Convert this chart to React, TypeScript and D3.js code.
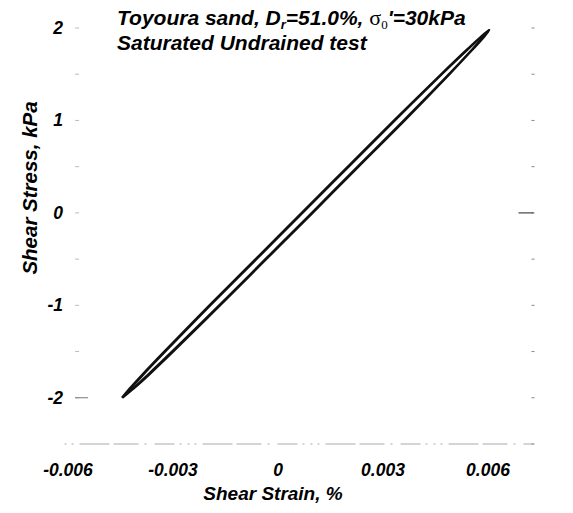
import React from 'react';
import * as d3 from 'd3';

// stress levels (kPa) at which the loop branches were read
const stressLevels = [-2.0, -1.9, -1.75, -1.5, -1.0, -0.5, 0, 0.5, 1.0, 1.5, 1.75, 1.9, 1.98];

// cycle 1: loading branch (right/lower) and unloading branch (left/upper), strain %
const loadStrain1 = [-0.00446, -0.00415, -0.00372, -0.00303, -0.00168, -0.00036, 0.00096, 0.00227, 0.00359, 0.00488, 0.0055, 0.00586, 0.00603];
const unloadStrain1 = [-0.00446, -0.00424, -0.00388, -0.00325, -0.00196, -0.00064, 0.00067, 0.00199, 0.00331, 0.00466, 0.00535, 0.00578, 0.00603];

// cycle 2, slightly drifted
const loadStrain2 = [-0.00444, -0.00412, -0.00368, -0.00299, -0.00165, -0.00033, 0.00099, 0.0023, 0.00362, 0.0049, 0.00552, 0.00588, 0.00604];
const unloadStrain2 = [-0.00444, -0.00421, -0.00385, -0.00322, -0.00193, -0.00061, 0.0007, 0.00202, 0.00334, 0.00468, 0.00537, 0.0058, 0.00604];

const xTicks = [-0.006, -0.003, 0, 0.003, 0.006];
const xTickLabels = ['-0.006', '-0.003', '0', '0.003', '0.006'];
const yTicks = [2, 1, 0, -1, -2];
const yMinorTicks = [2, 1.5, 1, 0.5, 0, -0.5, -1, -1.5, -2, -2.5];

const App = () => {
  const x = d3.scaleLinear().domain([-0.006, 0.006]).range([68, 488]);
  const y = d3.scaleLinear().domain([-2.5, 2]).range([444, 28]);

  const line = d3
    .line<[number, number]>()
    .x(d => x(d[0]))
    .y(d => y(d[1]))
    .curve(d3.curveCatmullRom);

  // closed loop: up the loading branch, back down the unloading branch
  const loop = (load: number[], unload: number[]) => {
    const up = stressLevels.map((s, i) => [load[i], s] as [number, number]);
    const down = stressLevels.map((s, i) => [unload[i], s] as [number, number]).reverse();
    return [...up, ...down.slice(1)];
  };

  const loops = [loop(loadStrain1, unloadStrain1), loop(loadStrain2, unloadStrain2)];

  const rightX = x(0.0073);
  const leftTickX = x(-0.00574);
  const bottomY = y(-2.5);
  const font = '"Liberation Sans", Arial, sans-serif';
  const serif = '"Liberation Serif", "Times New Roman", serif';

  return (
    <svg width={573} height={513} style={{ position: 'absolute', left: 0, top: 0 }}>
      <rect width={573} height={513} fill="#fff" />

      {/* faint scanned frame */}
      <line x1={x(-0.0061)} x2={rightX} y1={bottomY} y2={bottomY} stroke="#aaa" strokeWidth={1} strokeDasharray="2 5 2 6 30 4 25 6 2 8 20 5 2 6" />
      {yMinorTicks.map(t => (
        <line key={'r' + t} x1={rightX - 2} x2={rightX + 1} y1={y(t)} y2={y(t)} stroke="#888" strokeWidth={1} />
      ))}
      <line x1={rightX - 15} x2={rightX} y1={y(0)} y2={y(0)} stroke="#444" strokeWidth={1.2} />
      {yMinorTicks.filter(t => t > -2.5).map(t => (
        <line key={'l' + t} x1={leftTickX - 2} x2={leftTickX + 2} y1={y(t)} y2={y(t)} stroke="#bbb" strokeWidth={1} />
      ))}
      <line x1={leftTickX - 2} x2={leftTickX + 11} y1={y(-2)} y2={y(-2)} stroke="#777" strokeWidth={1} />

      {/* hysteresis loops */}
      {loops.map((l, i) => (
        <path key={i} d={line(l) || ''} fill="none" stroke="#111" strokeWidth={2.1} strokeLinejoin="round" />
      ))}

      {/* y tick labels */}
      {yTicks.map(t => (
        <text key={t} x={63} y={y(t) + 6} textAnchor="end" fontFamily={font} fontWeight="bold" fontStyle="italic" fontSize={17.5}>
          {t}
        </text>
      ))}

      {/* x tick labels */}
      {xTicks.map((t, i) => (
        <text key={t} x={x(t)} y={476} textAnchor="middle" fontFamily={font} fontWeight="bold" fontStyle="italic" fontSize={17.5}>
          {xTickLabels[i]}
        </text>
      ))}

      <text x={273} y={500} textAnchor="middle" fontFamily={font} fontWeight="bold" fontStyle="italic" fontSize={19}>
        Shear Strain, %
      </text>

      <text transform="translate(37,188) rotate(-90)" textAnchor="middle" fontFamily={font} fontWeight="bold" fontStyle="italic" fontSize={20.5}>
        Shear Stress, kPa
      </text>

      {/* title */}
      <text x={117} y={25} fontFamily={font} fontWeight="bold" fontStyle="italic" fontSize={21}>
        Toyoura sand, D
        <tspan fontSize={13} dy={4}>r</tspan>
        <tspan dy={-4}>=51.0%, </tspan>
        <tspan fontFamily={serif} fontWeight="normal" fontStyle="normal" fontSize={22}>σ</tspan>
        <tspan fontFamily={serif} fontWeight="normal" fontStyle="normal" fontSize={13} dy={4}>0</tspan>
        <tspan dy={-4}>'=30kPa</tspan>
      </text>
      <text x={117} y={50} fontFamily={font} fontWeight="bold" fontStyle="italic" fontSize={21}>
        Saturated Undrained test
      </text>
    </svg>
  );
};

export default App;
